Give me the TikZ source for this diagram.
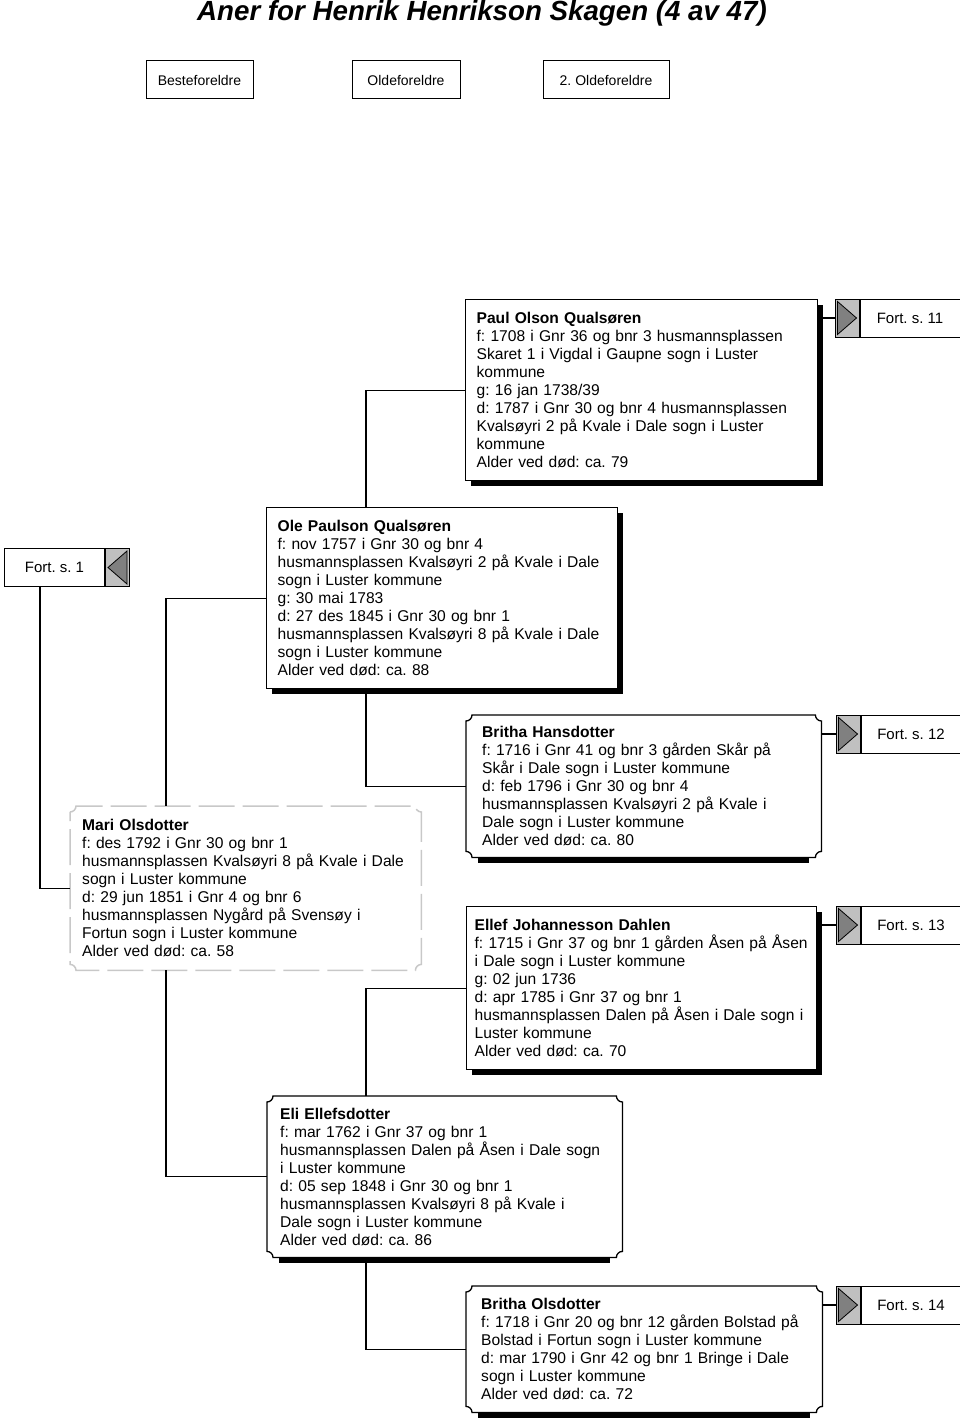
\documentclass[tikz,border=0pt]{standalone}
\usepackage{fontspec}
\setmainfont{Liberation Sans}
\frenchspacing
\usetikzlibrary{positioning,calc,shadows}
\definecolor{iconGray}{RGB}{192,192,192}
\definecolor{arrowGray}{RGB}{128,128,128}
\definecolor{dashGray}{RGB}{200,200,200}

% notched frame round a named node
\newcommand{\notchframe}[2][]{%
  \draw[line width=1.3pt,#1] ([yshift=-6pt]#2.north west) .. controls +(3.3pt,0pt) and +(0pt,-3.3pt) .. ([xshift=6pt]#2.north west)
    -- ([xshift=-6pt]#2.north east) .. controls +(0pt,-3.3pt) and +(-3.3pt,0pt) .. ([yshift=-6pt]#2.north east)
    -- ([yshift=6pt]#2.south east) .. controls +(-3.3pt,0pt) and +(0pt,3.3pt) .. ([xshift=-6pt]#2.south east)
    -- ([xshift=6pt]#2.south west) .. controls +(0pt,3.3pt) and +(3.3pt,0pt) .. ([yshift=6pt]#2.south west) -- cycle;}
\newcommand{\notchshadow}[1]{\fill ([xshift=12pt]#1.south west) rectangle ([xshift=-12pt,yshift=-6pt]#1.south east);}
% triangles in the icons
\newcommand{\triR}[1]{\draw[fill=arrowGray, line width=0.8pt] ([shift={(3pt,-3pt)}]#1.north west) -- ([shift={(3pt,3pt)}]#1.south west) -- ([xshift=-3pt]#1.east) -- cycle;}
\newcommand{\triL}[1]{\draw[fill=arrowGray, line width=0.8pt] ([shift={(-3pt,-3pt)}]#1.north east) -- ([shift={(-3pt,3pt)}]#1.south east) -- ([xshift=3pt]#1.west) -- cycle;}

\tikzset{
  tab/.style={draw, line width=1pt, minimum height=38pt, inner sep=0pt, font=\fontsize{14}{16}\selectfont},
  person/.style={draw, fill=white, line width=1.3pt, anchor=north west, align=left, inner ysep=0pt,
    font=\fontsize{15.6}{18}\selectfont,
    drop shadow={shadow xshift=5pt, shadow yshift=-5pt, opacity=1, fill=black}},
  notched/.style={anchor=north west, align=left, inner ysep=0pt, font=\fontsize{15.6}{18}\selectfont},
  fort/.style={draw, fill=white, line width=1pt, minimum width=100pt, minimum height=38pt, inner sep=0pt,
    font=\fontsize{15}{17}\selectfont},
  icon/.style={draw, fill=iconGray, line width=1pt, minimum width=24pt, minimum height=38pt, inner sep=0pt},
  link/.style={line width=1.2pt}
}

\begin{document}
\begin{tikzpicture}[x=1pt,y=-1pt]
  \useasboundingbox (0,0) rectangle (960,1423);
  % heading and tabs
  \node[font=\fontsize{27.7}{30}\selectfont\bfseries\itshape, anchor=base] (title) at (482,21)
    {Aner for Henrik Henrikson Skagen (4 av 47)};
  \node[tab, minimum width=107pt] (beste) at (199.5,80) {Besteforeldre};
  \node[tab, minimum width=108pt] (olde) at (406,80) {Oldeforeldre};
  \node[tab, minimum width=126pt] (olde2) at (606,80) {2. Oldeforeldre};

  % Paul
  \node[person, minimum width=352pt, minimum height=181pt, text width=330pt, inner xsep=11pt] (paul) at (465,299)
    {\textbf{Paul Olson Qualsøren}\\
     f: 1708 i Gnr 36 og bnr 3 husmannsplassen\\
     Skaret 1 i Vigdal i Gaupne sogn i Luster\\
     kommune\\
     g: 16 jan 1738/39\\
     d: 1787 i Gnr 30 og bnr 4 husmannsplassen\\
     Kvalsøyri 2 på Kvale i Dale sogn i Luster\\
     kommune\\
     Alder ved død: ca. 79};
  \node[icon] (icB) at (847,318) {};
  \node[fort, right=0pt of icB] (fortB) {Fort. s. 11};
  \triR{icB}

  % Ole
  \node[person, minimum width=351pt, minimum height=181pt, text width=329pt, inner xsep=11pt] (ole) at (266,507)
    {\textbf{Ole Paulson Qualsøren}\\
     f: nov 1757 i Gnr 30 og bnr 4\\
     husmannsplassen Kvalsøyri 2 på Kvale i Dale\\
     sogn i Luster kommune\\
     g: 30 mai 1783\\
     d: 27 des 1845 i Gnr 30 og bnr 1\\
     husmannsplassen Kvalsøyri 8 på Kvale i Dale\\
     sogn i Luster kommune\\
     Alder ved død: ca. 88};
  \node[fort, anchor=north west] (fortA) at (4,548) {Fort. s. 1};
  \node[icon, right=0pt of fortA] (icA) {};
  \triL{icA}

  % Britha Hansdotter
  \node[notched, minimum width=355pt, minimum height=142pt, text width=323pt, inner xsep=16pt] (britH) at (466,715)
    {\textbf{Britha Hansdotter}\\
     f: 1716 i Gnr 41 og bnr 3 gården Skår på\\
     Skår i Dale sogn i Luster kommune\\
     d: feb 1796 i Gnr 30 og bnr 4\\
     husmannsplassen Kvalsøyri 2 på Kvale i\\
     Dale sogn i Luster kommune\\
     Alder ved død: ca. 80};
  \notchshadow{britH}
  \notchframe{britH}
  \node[icon] (icC) at (848,734) {};
  \node[fort, right=0pt of icC] (fortC) {Fort. s. 12};
  \triR{icC}

  % Mari, dashed frame
  \node[notched, minimum width=351pt, minimum height=164pt, text width=327pt, inner xsep=12pt] (mari) at (70,806)
    {\textbf{Mari Olsdotter}\\
     f: des 1792 i Gnr 30 og bnr 1\\
     husmannsplassen Kvalsøyri 8 på Kvale i Dale\\
     sogn i Luster kommune\\
     d: 29 jun 1851 i Gnr 4 og bnr 6\\
     husmannsplassen Nygård på Svensøy i\\
     Fortun sogn i Luster kommune\\
     Alder ved død: ca. 58};
  \notchframe[dashGray, line width=1.5pt, dash pattern=on 36pt off 8pt]{mari}

  % Ellef
  \node[person, minimum width=350pt, minimum height=163pt, text width=334pt, inner xsep=8pt] (ellef) at (466,906)
    {\textbf{Ellef Johannesson Dahlen}\\
     f: 1715 i Gnr 37 og bnr 1 gården Åsen på Åsen\\
     i Dale sogn i Luster kommune\\
     g: 02 jun 1736\\
     d: apr 1785 i Gnr 37 og bnr 1\\
     husmannsplassen Dalen på Åsen i Dale sogn i\\
     Luster kommune\\
     Alder ved død: ca. 70};
  \node[icon] (icD) at (848,925) {};
  \node[fort, right=0pt of icD] (fortD) {Fort. s. 13};
  \triR{icD}

  % Eli
  \node[notched, minimum width=355pt, minimum height=161pt, text width=329pt, inner xsep=13pt] (eli) at (267,1096)
    {\textbf{Eli Ellefsdotter}\\
     f: mar 1762 i Gnr 37 og bnr 1\\
     husmannsplassen Dalen på Åsen i Dale sogn\\
     i Luster kommune\\
     d: 05 sep 1848 i Gnr 30 og bnr 1\\
     husmannsplassen Kvalsøyri 8 på Kvale i\\
     Dale sogn i Luster kommune\\
     Alder ved død: ca. 86};
  \notchshadow{eli}
  \notchframe{eli}

  % Britha Olsdotter
  \node[notched, minimum width=356pt, minimum height=126pt, text width=326pt, inner xsep=15pt] (britO) at (466,1286)
    {\textbf{Britha Olsdotter}\\
     f: 1718 i Gnr 20 og bnr 12 gården Bolstad på\\
     Bolstad i Fortun sogn i Luster kommune\\
     d: mar 1790 i Gnr 42 og bnr 1 Bringe i Dale\\
     sogn i Luster kommune\\
     Alder ved død: ca. 72};
  \notchshadow{britO}
  \notchframe{britO}
  \node[icon] (icE) at (848,1305) {};
  \node[fort, right=0pt of icE] (fortE) {Fort. s. 14};
  \triR{icE}

  % connectors
  \draw[link] (paul.west) -| ([xshift=100pt]ole.north west);
  \draw[link] ([xshift=100pt]ole.south west) |- (britH.west);
  \draw[link] (ole.west) -| ([xshift=96pt]mari.north west);
  \draw[link] ([xshift=96pt]mari.south west) |- (eli.west);
  \draw[link] ([xshift=36pt]fortA.south west) |- (mari.west);
  \draw[link] ([xshift=99pt]eli.north west) |- (ellef.west);
  \draw[link] ([xshift=99pt]eli.south west) |- (britO.west);
  \draw[link] (icB.west) -- (icB.west -| paul.east);
  \draw[link] (icC.west) -- (icC.west -| britH.east);
  \draw[link] (icD.west) -- (icD.west -| ellef.east);
  \draw[link] (icE.west) -- (icE.west -| britO.east);
\end{tikzpicture}
\end{document}
